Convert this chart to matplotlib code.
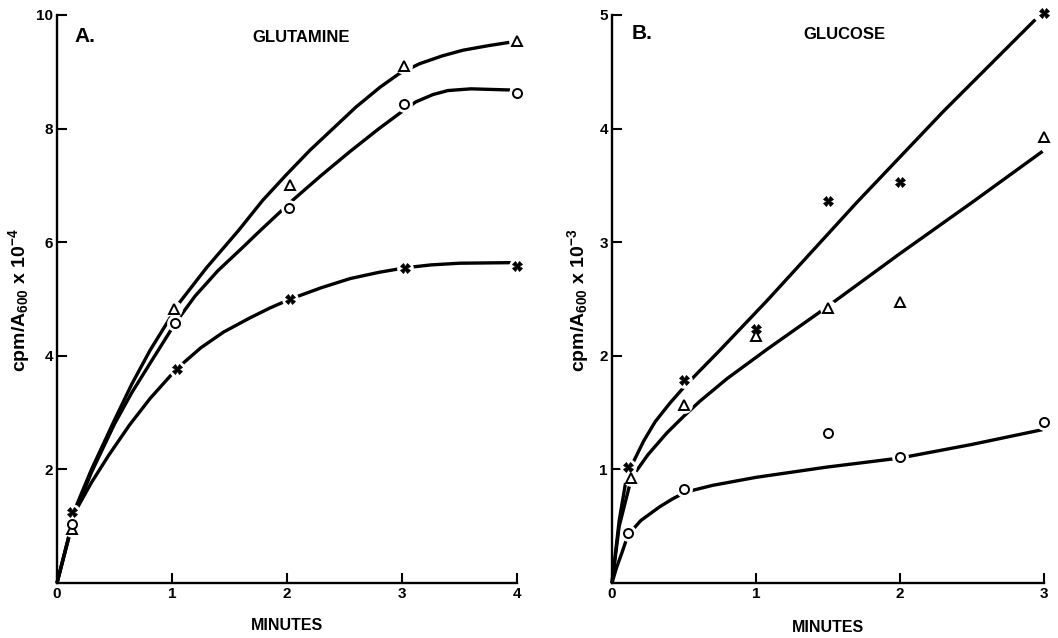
import matplotlib
matplotlib.use("Agg")
import matplotlib.pyplot as plt

plt.rcParams['font.family'] = ['Liberation Sans', 'DejaVu Sans']
plt.rcParams['font.weight'] = 'bold'
plt.rcParams['mathtext.fontset'] = 'custom'
plt.rcParams['mathtext.rm'] = 'Liberation Sans:bold'
plt.rcParams['mathtext.bf'] = 'Liberation Sans:bold'
plt.rcParams['mathtext.it'] = 'Liberation Sans:bold'
plt.rcParams['mathtext.default'] = 'bf'

# ---------------- Panel A: GLUTAMINE (cpm/A600 x 10^-4) ----------------
a_tri_x = [0.13, 1.02, 2.03, 3.02, 4.0]
a_tri_y = [0.95, 4.82, 7.0, 9.1, 9.54]
a_circ_x = [0.13, 1.03, 2.02, 3.02, 4.0]
a_circ_y = [1.04, 4.58, 6.6, 8.43, 8.63]
a_x_x = [0.13, 1.04, 2.03, 3.03, 4.0]
a_x_y = [1.25, 3.77, 5.0, 5.55, 5.58]

# hand-drawn curves
a_tri_curve_x = [0, 0.11, 0.17, 0.3, 0.5, 0.65, 0.81, 1.07, 1.3, 1.58, 1.79, 2.0, 2.2, 2.4,
                 2.6, 2.81, 2.97, 3.15, 3.35, 3.53, 3.75, 3.94]
a_tri_curve_y = [0, 0.88, 1.37, 2.0, 2.87, 3.5, 4.1, 4.95, 5.55, 6.21, 6.74, 7.2, 7.62, 8.0,
                 8.38, 8.73, 8.96, 9.14, 9.28, 9.38, 9.46, 9.52]
a_circ_curve_x = [0, 0.11, 0.17, 0.3, 0.5, 0.65, 0.81, 1.03, 1.2, 1.4, 1.6, 1.77, 2.05, 2.3,
                  2.55, 2.8, 3.0, 3.12, 3.27, 3.4, 3.6, 3.94]
a_circ_curve_y = [0, 0.85, 1.3, 1.95, 2.8, 3.35, 3.87, 4.58, 5.05, 5.5, 5.88, 6.21, 6.74, 7.18,
                  7.6, 8.0, 8.3, 8.47, 8.6, 8.67, 8.7, 8.68]
a_x_curve_x = [0, 0.11, 0.17, 0.3, 0.45, 0.63, 0.81, 1.04, 1.25, 1.45, 1.68, 1.85, 2.03,
               2.3, 2.55, 2.8, 3.03, 3.25, 3.5, 3.95]
a_x_curve_y = [0, 0.88, 1.3, 1.77, 2.25, 2.78, 3.25, 3.77, 4.14, 4.42, 4.67, 4.84, 5.0,
               5.2, 5.36, 5.47, 5.55, 5.6, 5.63, 5.64]

a_xticks = [0, 1, 2, 3, 4]
a_yticks = [2, 4, 6, 8, 10]

# ---------------- Panel B: GLUCOSE (cpm/A600 x 10^-3) ----------------
b_x_x = [0.11, 0.5, 1.0, 1.5, 2.0, 3.0]
b_x_y = [1.02, 1.79, 2.24, 3.36, 3.53, 5.02]
b_tri_x = [0.13, 0.5, 1.0, 1.5, 2.0, 3.0]
b_tri_y = [0.92, 1.57, 2.17, 2.42, 2.47, 3.93]
b_circ_x = [0.11, 0.5, 1.5, 2.0, 3.0]
b_circ_y = [0.44, 0.83, 1.32, 1.11, 1.42]

b_x_curve_x = [0, 0.05, 0.11, 0.15, 0.22, 0.3, 0.4, 0.49, 0.58, 0.75, 1.08, 1.7, 2.3, 2.94]
b_x_curve_y = [0, 0.55, 1.0, 1.07, 1.25, 1.42, 1.58, 1.71, 1.83, 2.05, 2.49, 3.35, 4.15, 4.96]
b_tri_curve_x = [0, 0.05, 0.13, 0.16, 0.25, 0.38, 0.5, 0.61, 0.8, 1.08, 1.46, 2.0, 2.5, 2.99]
b_tri_curve_y = [0, 0.5, 0.9, 0.97, 1.13, 1.32, 1.47, 1.6, 1.8, 2.06, 2.4, 2.9, 3.35, 3.8]
b_circ_curve_x = [0, 0.03, 0.07, 0.11, 0.2, 0.33, 0.42, 0.51, 0.7, 1.0, 1.49, 2.0, 2.5, 2.99]
b_circ_curve_y = [0, 0.13, 0.27, 0.42, 0.55, 0.67, 0.74, 0.8, 0.86, 0.93, 1.02, 1.1, 1.22, 1.35]

b_xticks = [0, 1, 2, 3]
b_yticks = [1, 2, 3, 4, 5]

W, H = 1058, 638
fig = plt.figure(figsize=(W / 100, H / 100), dpi=100)
axA = fig.add_axes([57 / W, (H - 583) / H, 460 / W, 568 / H])
axB = fig.add_axes([612 / W, (H - 583) / H, 432 / W, 568 / H])

LW = 2.4


def draw_panel(ax, curves, markers, xlim, ylim, xticks, yticks):
    for cx, cy in curves:
        ax.plot(cx, cy, color='black', lw=LW, solid_capstyle='butt', solid_joinstyle='round',
                zorder=2, clip_on=False)
    for mx, my, m, ms in markers:
        ax.plot(mx, my, linestyle='none', marker='o', ms=11, mfc='white', mec='white',
                zorder=3, clip_on=False)
    for mx, my, m, ms in markers:
        if m == 'X':
            ax.plot(mx, my, linestyle='none', marker='X', ms=ms, mfc='black', mec='black',
                    mew=0.5, zorder=4, clip_on=False)
        else:
            ax.plot(mx, my, linestyle='none', marker=m, ms=ms, mfc='white', mec='black',
                    mew=1.4, zorder=4, clip_on=False)
    ax.set_xlim(*xlim)
    ax.set_ylim(*ylim)
    ax.set_xticks(xticks)
    ax.set_yticks(yticks)
    ax.spines['top'].set_visible(False)
    ax.spines['right'].set_visible(False)
    ax.spines['left'].set_linewidth(1.7)
    ax.spines['bottom'].set_linewidth(1.7)
    ax.tick_params(direction='in', length=7, width=1.5, labelsize=11, pad=3)
    for lab in ax.get_xticklabels() + ax.get_yticklabels():
        lab.set_fontweight('bold')
    ax.set_facecolor('white')


draw_panel(axA,
           [(a_tri_curve_x, a_tri_curve_y), (a_circ_curve_x, a_circ_curve_y),
            (a_x_curve_x, a_x_curve_y)],
           [(a_tri_x, a_tri_y, '^', 6.5), (a_circ_x, a_circ_y, 'o', 6.5),
            (a_x_x, a_x_y, 'X', 7)],
           (0, 4), (0, 10), a_xticks, a_yticks)
draw_panel(axB,
           [(b_x_curve_x, b_x_curve_y), (b_tri_curve_x, b_tri_curve_y),
            (b_circ_curve_x, b_circ_curve_y)],
           [(b_x_x, b_x_y, 'X', 7), (b_tri_x, b_tri_y, '^', 6.5),
            (b_circ_x, b_circ_y, 'o', 6.5)],
           (0, 3), (0, 5), b_xticks, b_yticks)

# panel titles
axA.text(0.039, 0.963, 'A.', transform=axA.transAxes, fontsize=15, fontweight='bold',
         ha='left', va='center')
axA.text(0.53, 0.96, 'GLUTAMINE', transform=axA.transAxes, fontsize=12, fontweight='bold',
         ha='center', va='center')
axB.text(0.046, 0.968, 'B.', transform=axB.transAxes, fontsize=15, fontweight='bold',
         ha='left', va='center')
axB.text(0.539, 0.965, 'GLUCOSE', transform=axB.transAxes, fontsize=12, fontweight='bold',
         ha='center', va='center')

# axis labels
fig.text(287 / W, (H - 626) / H, 'MINUTES', fontsize=11.5, fontweight='bold',
         ha='center', va='center')
fig.text(828 / W, (H - 628) / H, 'MINUTES', fontsize=11.5, fontweight='bold',
         ha='center', va='center')
fig.text(19 / W, (H - 300) / H, r'cpm/A$_{600}$ x 10$^{-4}$', fontsize=14, fontweight='bold',
         rotation=90, ha='center', va='center')
fig.text(578 / W, (H - 300) / H, r'cpm/A$_{600}$ x 10$^{-3}$', fontsize=14, fontweight='bold',
         rotation=90, ha='center', va='center')

fig.savefig('out.png', dpi=100, facecolor='white')
